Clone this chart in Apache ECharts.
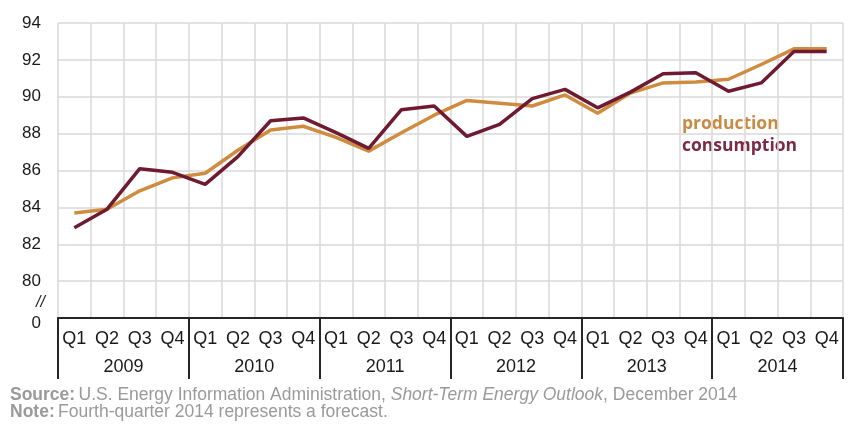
<!DOCTYPE html>
<html><head><meta charset="utf-8">
<script src="https://cdn.jsdelivr.net/npm/echarts@6/dist/echarts.min.js"></script>
<style>html,body{margin:0;padding:0;background:#fff}#c{width:856px;height:434px}</style>
</head><body><div id="c"></div>
<script>
const years = ['2009','2010','2011','2012','2013','2014'];
const quarters = ['Q1','Q2','Q3','Q4'];
const production = [83.7,83.9,84.9,85.6, 85.85,87.1,88.2,88.4, 87.8,87.05,88.05,89.0, 89.8,89.65,89.5,90.1, 89.1,90.2,90.75,90.8, 90.95,91.75,92.6,92.6];
const consumption = [82.9,83.9,86.1,85.9, 85.25,86.75,88.7,88.85, 88.05,87.2,89.3,89.5, 87.85,88.5,89.9,90.4, 89.4,90.25,91.25,91.3, 90.3,90.75,92.45,92.45];
const yTicks = [78,80,82,84,86,88,90,92,94];
const categories = [];
years.forEach(y => quarters.forEach(q => categories.push(y + ' ' + q)));

const chart = echarts.init(document.getElementById('c'), null, {renderer:'canvas'});
const FONT = '"Liberation Sans", Arial, sans-serif';
chart.setOption({
  animation:false,
  backgroundColor:'#fff',
  grid:{left:58,right:13,top:23,bottom:116,containLabel:false},
  xAxis:[{
    type:'category', data:categories, boundaryGap:true, position:'bottom',
    axisLine:{show:true,lineStyle:{color:'#262626',width:2}},
    axisTick:{show:false},
    axisLabel:{formatter:v=>v.split(' ')[1], color:'#1a1a1a', fontSize:18, fontFamily:FONT, margin:12, interval:0},
    splitLine:{show:true,lineStyle:{color:'#d9d9d9',width:1.5}}
  },{
    type:'category', data:years, boundaryGap:true, position:'bottom', offset:0,
    axisLine:{show:false},
    axisTick:{show:true,length:61,inside:false,lineStyle:{color:'#262626',width:2}},
    axisLabel:{color:'#1a1a1a', fontSize:18, fontFamily:FONT, margin:40},
    splitLine:{show:false}
  }],
  yAxis:{
    type:'value', min:yTicks[0], max:yTicks[yTicks.length-1], interval:2,
    axisLine:{show:false}, axisTick:{show:false},
    axisLabel:{color:'#1a1a1a', fontSize:17, fontFamily:FONT, margin:17,
      formatter:v=> v===78 ? '{z|0}' : String(v),
      rich:{z:{fontSize:17,fontFamily:FONT,color:'#1a1a1a',padding:[10,0,0,0]}}},
    splitLine:{show:true,lineStyle:{color:'#d9d9d9',width:1.5}}
  },
  series:[
    {name:'production',type:'line',data:production,xAxisIndex:0,symbol:'none',lineStyle:{color:'#CF8B3E',width:3.5},z:2},
    {name:'consumption',type:'line',data:consumption,xAxisIndex:0,symbol:'none',lineStyle:{color:'#6E1A30',width:3.5},z:3}
  ],
  graphic:[
    {type:'text',left:36,top:295,style:{text:'//',font:'italic 16px '+FONT,fill:'#1a1a1a'}},
    {type:'text',left:682,top:115,style:{text:'production',font:'bold 17.5px "Open Sans", sans-serif',fill:'#C98B43'}},
    {type:'text',left:682,top:137,style:{text:'consumption',font:'bold 17.5px "Open Sans", sans-serif',fill:'#7A2A45'}},
    {type:'text',left:10,top:386,style:{
      text:'{b|Source:} {r|U.S. Energy Information Administration, }{i|Short-Term Energy Outlook}{r|, December 2014}',
      rich:{b:{font:'bold 17.5px '+FONT,fill:'#9a9a9a'},r:{font:'17.5px '+FONT,fill:'#9a9a9a'},i:{font:'italic 17.5px '+FONT,fill:'#9a9a9a'}}}},
    {type:'text',left:10,top:403,style:{
      text:'{b|Note:} {r|Fourth-quarter 2014 represents a forecast.}',
      rich:{b:{font:'bold 17.5px '+FONT,fill:'#9a9a9a'},r:{font:'17.5px '+FONT,fill:'#9a9a9a'}}}}
  ]
});
</script></body></html>
